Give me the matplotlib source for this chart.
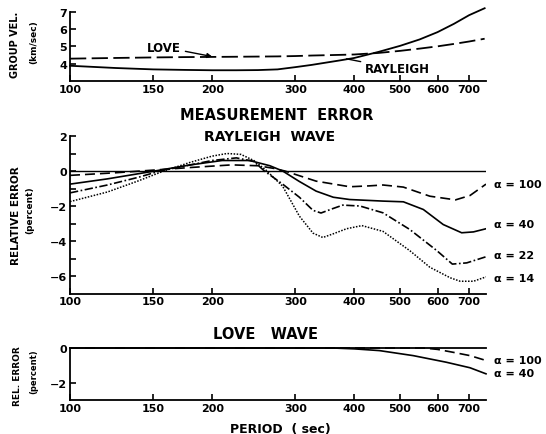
import numpy as np
import matplotlib
matplotlib.use("Agg")
import matplotlib.pyplot as plt
from matplotlib.ticker import FixedLocator, NullLocator

plt.rcParams['font.family'] = ['DejaVu Sans']
plt.rcParams['font.weight'] = 'bold'

# period ticks shared by all panels
period_ticks = [100, 150, 200, 300, 400, 500, 600, 700]
xmax = 760

# group velocity (km/sec)
gv_period = [100, 125, 150, 175, 200, 225, 250, 275, 300, 325, 350, 375, 400, 450, 500, 550, 600, 650, 700, 755]
gv_rayleigh = [3.88, 3.75, 3.67, 3.64, 3.62, 3.62, 3.63, 3.67, 3.80, 3.93, 4.07, 4.20, 4.33, 4.68, 5.03, 5.40, 5.82, 6.30, 6.80, 7.20]
gv_love = [4.29, 4.33, 4.36, 4.38, 4.39, 4.40, 4.41, 4.42, 4.44, 4.47, 4.49, 4.51, 4.53, 4.62, 4.74, 4.87, 5.00, 5.14, 5.28, 5.44]

# rayleigh wave relative error (percent)
r14_p = [100, 120, 140, 158, 180, 200, 215, 230, 245, 260, 282, 306, 327, 343, 360, 385, 415, 460, 524, 578, 638, 670, 715, 760]
r14_v = [-1.75, -1.2, -0.55, 0.0, 0.5, 0.85, 1.0, 0.95, 0.6, 0.05, -0.87, -2.58, -3.55, -3.8, -3.6, -3.3, -3.12, -3.45, -4.55, -5.5, -6.1, -6.3, -6.3, -6.05]
r22_p = [100, 120, 140, 155, 180, 200, 225, 245, 258, 282, 306, 327, 340, 360, 378, 411, 460, 524, 598, 645, 692, 760]
r22_v = [-1.25, -0.8, -0.35, 0.0, 0.35, 0.6, 0.75, 0.55, 0.0, -0.75, -1.5, -2.25, -2.4, -2.15, -1.95, -2.0, -2.39, -3.34, -4.55, -5.32, -5.25, -4.9]
r40_p = [100, 120, 140, 155, 180, 210, 240, 265, 282, 306, 332, 361, 391, 460, 508, 560, 617, 675, 715, 760]
r40_v = [-0.75, -0.45, -0.15, 0.05, 0.35, 0.6, 0.6, 0.3, 0.0, -0.6, -1.15, -1.5, -1.63, -1.72, -1.76, -2.2, -3.06, -3.53, -3.48, -3.3]
r100_p = [100, 125, 150, 180, 220, 250, 270, 285, 332, 391, 430, 460, 508, 578, 655, 703, 760]
r100_v = [-0.25, -0.1, 0.05, 0.2, 0.35, 0.3, 0.15, 0.0, -0.58, -0.9, -0.85, -0.8, -0.92, -1.44, -1.65, -1.4, -0.75]

# love wave relative error (percent)
l100_p = [100, 300, 560, 600, 648, 703, 760]
l100_v = [0, 0, 0, -0.08, -0.25, -0.44, -0.72]
l40_p = [100, 300, 360, 400, 452, 533, 626, 703, 760]
l40_v = [0, 0, 0, -0.05, -0.15, -0.44, -0.82, -1.14, -1.49]

W, H = 546, 435
fig = plt.figure(figsize=(W / 100, H / 100), dpi=100)


def px_rect(x0, y0, x1, y1):
    return [x0 / W, 1 - y1 / H, (x1 - x0) / W, (y1 - y0) / H]


def style_axes(ax, ylim, yticks, ylabels, minor=None):
    ax.set_xscale('log')
    ax.set_xlim(100, xmax)
    ax.set_ylim(*ylim)
    ax.xaxis.set_major_locator(FixedLocator(period_ticks))
    ax.xaxis.set_minor_locator(NullLocator())
    ax.set_xticklabels([str(t) for t in period_ticks])
    ax.set_yticks(yticks)
    ax.set_yticklabels(ylabels)
    if minor is not None:
        ax.yaxis.set_minor_locator(FixedLocator(minor))
    for s in ['top', 'right']:
        ax.spines[s].set_visible(False)
    for s in ['left', 'bottom']:
        ax.spines[s].set_linewidth(1.3)
    ax.tick_params(direction='in', length=4, width=1.2, labelsize=8, pad=2)
    ax.tick_params(which='minor', direction='in', length=4, width=1.2)
    for lab in ax.get_xticklabels() + ax.get_yticklabels():
        lab.set_fontweight('bold')


# top panel: group velocity
ax1 = fig.add_axes(px_rect(70, 12.7, 486, 82))
ax1.plot(gv_period, gv_rayleigh, color='black', lw=1.3, clip_on=False)
ax1.plot(gv_period, gv_love, color='black', lw=1.3, linestyle=(0, (9, 3)), clip_on=False)
style_axes(ax1, (3, 7), [4, 5, 6, 7], ['4', '5', '6', '7'])
ax1.annotate('LOVE', xy=(200, 4.41), xytext=(172, 4.95), fontsize=8.5, fontweight='bold',
             ha='right', va='center',
             arrowprops=dict(arrowstyle='-|>', color='black', lw=1.0, mutation_scale=7,
                             shrinkA=1, shrinkB=0))
ax1.annotate('RAYLEIGH', xy=(385, 4.28), xytext=(421, 3.7), fontsize=8.5, fontweight='bold',
             ha='left', va='center',
             arrowprops=dict(arrowstyle='-', color='black', lw=1.0, shrinkA=1, shrinkB=0))

# middle panel: rayleigh wave
ax2 = fig.add_axes(px_rect(70, 137, 486, 294.5))
ax2.axhline(0, color='black', lw=1.0)
ax2.plot(r100_p, r100_v, color='black', lw=1.2, linestyle=(0, (6, 3)))
ax2.plot(r40_p, r40_v, color='black', lw=1.2)
ax2.plot(r22_p, r22_v, color='black', lw=1.2, linestyle=(0, (5, 1.5, 1, 1.5)))
ax2.plot(r14_p, r14_v, color='black', lw=1.1, linestyle=(0, (1, 1)))
style_axes(ax2, (-7, 2), [2, 0, -2, -4, -6], ['2', '0', '\u22122', '\u22124', '\u22126'],
           minor=[1, -1, -3, -5])
ax2.text(0.48, 1.0, 'RAYLEIGH  WAVE', transform=ax2.transAxes, fontsize=10,
         fontweight='bold', ha='center', va='center')
for txt, yv in [('\u03b1 = 100', -0.75), ('\u03b1 = 40', -3.05), ('\u03b1 = 22', -4.78), ('\u03b1 = 14', -6.1)]:
    ax2.text(1.02, yv, txt, transform=ax2.get_yaxis_transform(), fontsize=8,
             fontweight='bold', ha='left', va='center')

# bottom panel: love wave
ax3 = fig.add_axes(px_rect(70, 349, 486, 401))
ax3.axhline(0, color='black', lw=1.3, clip_on=False)
ax3.plot(l100_p, l100_v, color='black', lw=1.2, linestyle=(0, (6, 3)), clip_on=False)
ax3.plot(l40_p, l40_v, color='black', lw=1.2, clip_on=False)
style_axes(ax3, (-3, 0), [0, -2], ['0', '\u22122'])
ax3.text(0.47, 1.28, 'LOVE   WAVE', transform=ax3.transAxes, fontsize=10.5,
         fontweight='bold', ha='center', va='center')
for txt, yv in [('\u03b1 = 100', -0.72), ('\u03b1 = 40', -1.45)]:
    ax3.text(1.02, yv, txt, transform=ax3.get_yaxis_transform(), fontsize=8,
             fontweight='bold', ha='left', va='center')

# titles and axis labels
fig.text(277 / W, 1 - 115.7 / H, 'MEASUREMENT  ERROR', fontsize=10.5, fontweight='bold',
         ha='center', va='center')
fig.text(280 / W, 1 - 430 / H, 'PERIOD  ( sec)', fontsize=9, fontweight='bold',
         ha='center', va='center')
fig.text(15 / W, 1 - 45 / H, 'GROUP VEL.', rotation=90, fontsize=7, fontweight='bold',
         ha='center', va='center')
fig.text(34 / W, 1 - 42 / H, '(km/sec)', rotation=90, fontsize=6.5, fontweight='bold',
         ha='center', va='center')
fig.text(16 / W, 1 - 216 / H, 'RELATIVE ERROR', rotation=90, fontsize=7.5, fontweight='bold',
         ha='center', va='center')
fig.text(30 / W, 1 - 210 / H, '(percent)', rotation=90, fontsize=6.5, fontweight='bold',
         ha='center', va='center')
fig.text(17 / W, 1 - 376 / H, 'REL. ERROR', rotation=90, fontsize=6.5, fontweight='bold',
         ha='center', va='center')
fig.text(34 / W, 1 - 372 / H, '(percent)', rotation=90, fontsize=6, fontweight='bold',
         ha='center', va='center')

fig.savefig('out.png', dpi=100)
